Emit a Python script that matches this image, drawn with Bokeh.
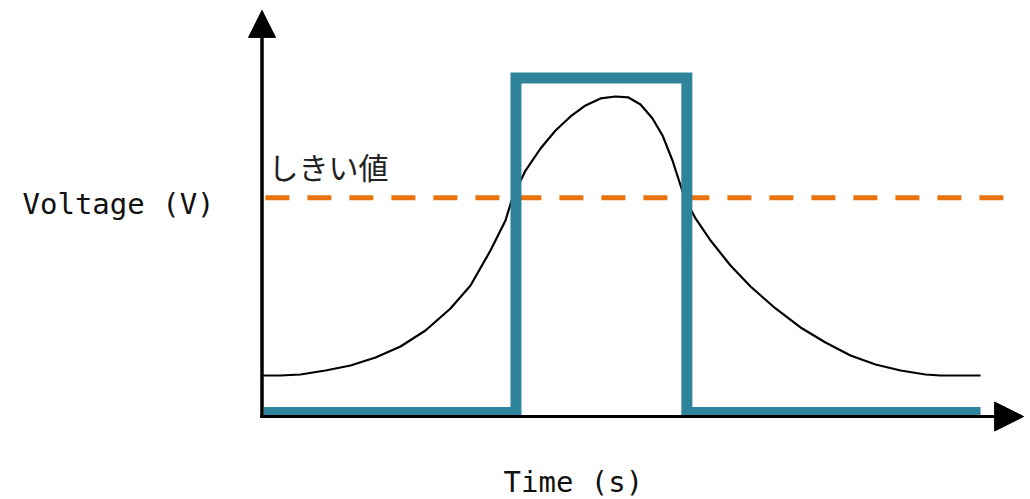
from bokeh.plotting import figure
from bokeh.models import Range1d, Arrow, NormalHead, Label
from bokeh.embed import file_html
from bokeh.resources import INLINE

# ---- data (time in arbitrary units, voltage in V) ----
curve_t = [0.000, 0.251, 0.529, 0.877, 1.226, 1.574, 1.922, 2.270, 2.618, 2.897,
           3.175, 3.384, 3.482, 3.663, 3.872, 4.081, 4.290, 4.499, 4.708, 4.916,
           5.097, 5.265, 5.432, 5.571, 5.710, 5.877, 6.031, 6.240, 6.518, 6.797,
           7.145, 7.493, 7.841, 8.189, 8.538, 8.886, 9.234, 9.443, 10.0]
curve_v = [0.553, 0.553, 0.568, 0.628, 0.703, 0.822, 0.987, 1.226, 1.555, 1.898,
           2.422, 2.870, 3.214, 3.617, 3.946, 4.215, 4.425, 4.589, 4.694, 4.723,
           4.709, 4.604, 4.395, 4.141, 3.767, 3.214, 2.900, 2.571, 2.197, 1.883,
           1.555, 1.271, 1.046, 0.852, 0.717, 0.628, 0.568, 0.553, 0.553]

pulse_t = [0.02, 3.53, 3.53, 5.91, 5.91, 10.0]
pulse_v = [0.0, 0.0, 5.0, 5.0, 0.0, 0.0]

threshold_v = 3.21
threshold_t = [0.04, 10.4]

threshold_label = "しきい値"
x_label = "Time (s)"
y_label = "Voltage (V)"

W, H = 1030, 499
p = figure(width=W, height=H, output_backend="svg", toolbar_location=None,
           x_range=Range1d(-3.649, 10.696), y_range=Range1d(-1.300, 6.158),
           min_border=0, min_border_left=0, min_border_right=0,
           min_border_top=0, min_border_bottom=0)
p.axis.visible = False
p.grid.visible = False
p.outline_line_color = None
p.background_fill_color = "white"
p.border_fill_color = "white"

# axes with arrow heads
p.add_layout(Arrow(end=NormalHead(size=27, fill_color="black", line_color="black"),
                   x_start=-0.007, y_start=-0.08, x_end=-0.007, y_end=6.01,
                   line_width=3.5, line_color="black"))
p.add_layout(Arrow(end=NormalHead(size=29, fill_color="black", line_color="black"),
                   x_start=-0.03, y_start=-0.06, x_end=10.60, y_end=-0.06,
                   line_width=3, line_color="black"))

# threshold dashed line
p.line(threshold_t, [threshold_v, threshold_v], line_color="#e8740f",
       line_width=5, line_dash="24 18")

# analog curve
p.line(curve_t, curve_v, line_color="black", line_width=2.2, line_join="round")

# digital pulse
p.line(pulse_t, pulse_v, line_color="#2f839b", line_width=11, line_join="miter")

p.add_layout(Label(x=22, y=296, x_units="screen", y_units="screen", text=y_label,
                   text_font="DejaVu Sans Mono", text_font_size="29px",
                   text_color="#111111", text_baseline="alphabetic"))
p.add_layout(Label(x=503, y=18, x_units="screen", y_units="screen", text=x_label,
                   text_font="DejaVu Sans Mono", text_font_size="29px",
                   text_color="#111111", text_baseline="alphabetic"))
p.add_layout(Label(x=268, y=334, x_units="screen", y_units="screen", text=threshold_label,
                   text_font="Noto Sans CJK JP", text_font_size="30px",
                   text_color="#222222", text_baseline="middle"))

open("out.html", "w").write(file_html(p, INLINE))
